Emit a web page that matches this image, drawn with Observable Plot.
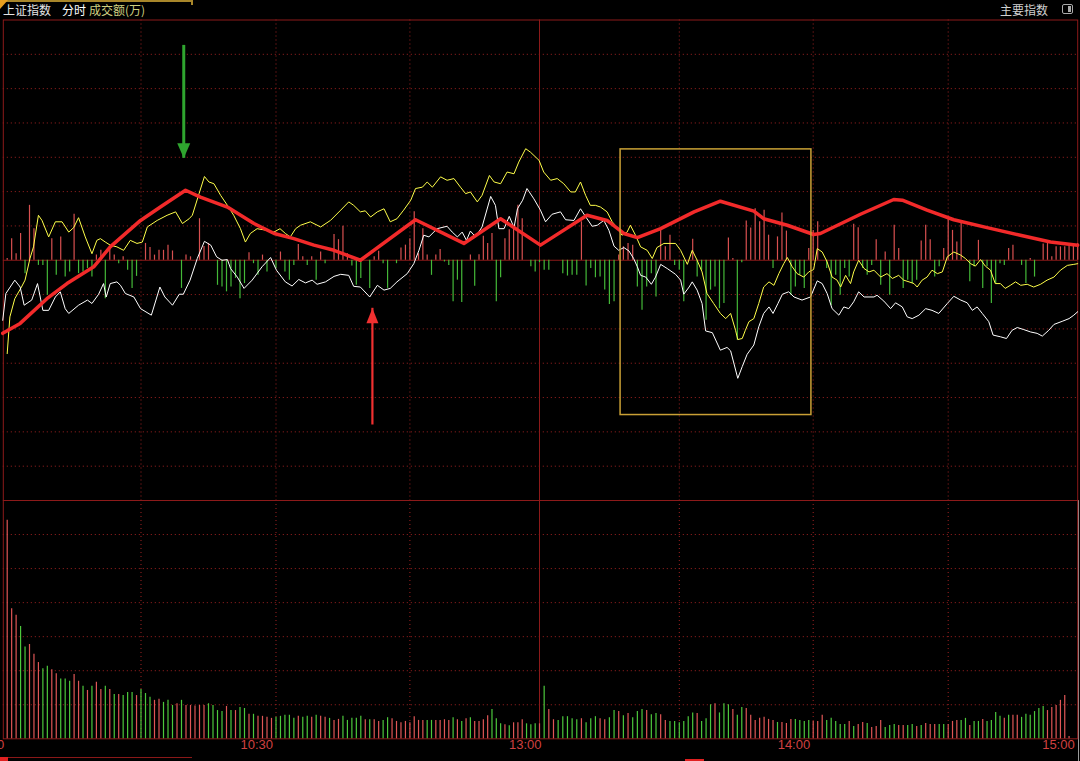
<!DOCTYPE html>
<html><head><meta charset="utf-8">
<script src="https://cdn.jsdelivr.net/npm/d3@7"></script>
<script src="https://cdn.jsdelivr.net/npm/@observablehq/plot@0.6"></script>
<style>
html,body{margin:0;padding:0;background:#000;}
#wrap{position:relative;width:1080px;height:761px;overflow:hidden;background:#000;font-family:"Noto Sans CJK SC",sans-serif;}
#wrap svg{position:absolute;left:0;top:0;}
.t{position:absolute;top:2px;font-size:12px;line-height:16px;white-space:nowrap;}
.b{position:absolute;}
</style></head><body>
<div id="wrap">
  <div class="b" style="left:0;top:0;width:192px;height:2px;background:#a8862a"></div>
  <div class="b" style="left:191px;top:0;width:2px;height:5px;background:#a8862a"></div>
  <div class="b" style="left:0;top:0;width:0;height:0;border-top:9px solid #e8a020;border-right:8px solid transparent"></div>
  <div class="t" style="left:3px;color:#e6e6e6">上证指数</div>
  <div class="t" style="left:62px;color:#ffffff">分时</div>
  <div class="t" style="left:89px;color:#cfcf80">成交额(万)</div>
  <div class="t" style="left:1000px;color:#d0d0d0">主要指数</div>
  <div class="b" style="left:1062px;top:4px;width:11px;height:10px;border:1px solid #aaa;border-radius:2px;box-sizing:border-box"></div>
  <div class="b" style="left:1068px;top:6px;width:3px;height:6px;background:#aaa"></div>
  <div class="b" style="left:0;top:757px;width:8px;height:4px;background:#e02020"></div>
  <div class="b" style="left:8px;top:757px;width:184px;height:1px;background:#8a1818"></div>
  <div class="b" style="left:685px;top:759px;width:19px;height:2px;background:#e02020"></div>
  <div class="b" style="left:1078px;top:500px;width:1px;height:261px;background:#9a9a9a"></div>
</div>
<script>
// ---------- data (minute index 0 = 9:30, 120 = 11:30/13:00, 240 = 15:00) ----------
const xKnots = [0, 30, 60, 90, 120, 150, 180, 210, 240];
const tickMinutes = [0, 60, 180, 240];
const tickLabels = ["9:30", "10:30", "14:00", "15:00"];
const middayMinute = [120];
const middayLabel = ["13:00"];

// price line (white), leading line (yellow): [minute, value]
const whitePts = [[-1,-17.5],[-0.3,-9.7],[1.7,-5.8],[2.9,-7.8],[3.8,-13.1],[5.5,-11.6],[6.8,-6.8],[8.0,-14.6],[9.3,-14.6],[10.8,-10.7],[11.9,-9.2],[13.0,-14.1],[13.8,-15.5],[16.0,-13.1],[18.0,-11.6],[19.0,-12.6],[20.5,-9.9],[21.6,-6.8],[22.2,-10.7],[23.1,-6.8],[24.6,-6.3],[25.4,-7.3],[26.5,-9.7],[28.4,-10.7],[29.9,-14.1],
[32.3,-16.0],[34.2,-7.8],[35.3,-10.7],[37.0,-13.1],[38.5,-9.9],[39.4,-9.9],[40.9,-5.8],[42.5,0.5],[44.1,5.5],[45.5,4.4],[46.8,1.0],[48.0,0],[49.2,0.2],[49.9,-2.4],[51.4,-4.9],[52.9,-8.2],[54.7,-5.8],[56.9,-1.9],[58.8,0.8],
[60.1,-2.9],[62.1,-6.3],[63.6,-7.5],[65.1,-5.6],[66.6,-6.6],[68.1,-5.8],[69.2,-7.0],[71.1,-6.3],[73.0,-4.7],[74.5,-4.1],[76.3,-4.4],[77.4,-7.6],
[78.9,-7.8],[81.0,-10.7],[82.7,-7.3],[84.2,-8.7],[85.6,-8.2],[87.1,-6.3],[89.4,-3.9],[90.9,-1.0],[92.1,2.9],[93.2,7.3],[94.4,6.8],[96.3,9.2],[98.6,9.9],[99.8,8.2],[101.0,6.8],[102.1,8.2],[103.1,5.8],[104.0,8.5],[105.2,6.8],[106.7,9.7],[108.7,18.6],[109.8,16.0],[110.6,9.2],[111.8,9.2],[113.0,12.8],[114.1,9.5],[114.9,15.0],[116.1,17.5],[117.1,20.9],[118.7,17.9],[120.2,14.6],[121.3,11.2],[122.7,13.4],[124.5,14.1],[125.6,11.8],[127.4,11.6],[128.8,15.0],[129.7,13.1],[131.3,9.9],[132.4,10.2],[133.8,11.6],[134.9,8.7],[136.0,4.1],[137.0,2.9],[138.1,3.7],[139.2,2.7],[140.2,0.5],[141.0,-1.9],[141.7,-4.4],[142.8,-4.9],[144.0,-7.0],[144.9,-4.9],[146.0,-1.2],[147.4,-2.4],[149.2,-4.1],[150.3,-5.8],[151.0,-9.9],[152.2,-7.8],[152.9,-6.3],[154.0,-8.7],[155.1,-12.6],[155.9,-20.6],[157.4,-21.1],
[159.2,-26.2],[160.7,-25.4],[161.5,-26.4],[163.1,-34.4],[164.1,-31.0],[165.2,-27.4],[166.7,-24.7],[167.8,-19.4],[168.9,-15.5],[170.1,-13.6],[171.0,-15.5],[172.1,-12.6],[173.1,-9.9],[174.5,-9.2],[175.7,-10.7],[177.5,-11.6],[179.4,-10.7],[180.9,-6.0],[182.0,-6.8],[183.1,-9.7],[184.2,-14.1],[185.7,-16.0],[186.8,-13.6],[187.9,-14.1],[189.0,-12.1],[190.1,-9.2],[191.3,-10.7],[193.5,-10.7],[194.2,-10.2],[195.7,-11.9],[197.2,-14.1],[198.3,-12.4],[199.8,-13.6],[200.9,-16.5],[202.0,-17.0],[203.5,-16.0],[205.0,-14.1],[206.4,-14.6],[207.9,-15.5],[209.8,-12.6],[211.3,-10.5],[212.9,-11.6],[214.4,-12.4],[215.6,-14.6],[216.7,-13.6],[217.9,-15.5],[219.4,-17.9],[220.4,-21.8],[222.1,-22.3],[223.5,-22.8],[224.8,-20.4],[226.0,-19.6],[227.5,-20.2],[229.1,-20.9],[230.6,-21.3],[231.8,-22.1],[233.3,-20.4],[234.5,-18.7],[236.4,-17.8],[238.0,-17.0],[239.1,-16.0],[240,-15.0]];

const yellowPts = [[0,-27.2],[0.6,-16.5],[1.7,-11.2],[3.2,-7.8],[4.0,-5.8],[5.1,0.5],[5.9,3.9],[7.0,13.1],[7.8,11.6],[9.3,6.8],[10.8,11.2],[12.3,11.2],[13.8,8.2],[14.9,9.5],[16.0,12.4],[17.5,6.8],[19.0,1.9],[20.1,5.8],[20.9,6.3],[22.0,5.3],[23.1,4.4],[24.6,3.9],[26.1,2.9],[27.6,5.8],[29.1,4.9],
[30.3,5.3],[31.4,9.7],[33.6,11.6],[35.8,13.1],[37.7,14.1],[39.2,10.7],[40.7,12.1],[41.4,13.1],[42.9,19.4],[44.1,24.4],[45.1,22.8],[46.2,22.3],[47.7,18.9],[49.2,16.0],[50.6,13.1],[52.1,9.2],[53.2,5.3],[54.3,7.8],[55.8,9.2],[58.0,8.7],[59.5,8.2],
[60.9,9.2],[62.1,7.8],[63.2,6.8],[64.4,9.2],[65.5,10.2],[67.7,11.2],[70.0,9.7],[72.2,11.6],[74.5,14.6],[76.3,17.0],[77.4,16.0],
[78.9,14.1],[80.0,14.4],[81.2,12.6],[82.7,14.1],[84.2,15.0],[85.6,11.2],[87.1,12.1],[88.6,14.6],[90.2,17.5],[91.3,20.9],[92.9,21.3],[94.0,22.8],[95.2,21.3],[97.1,24.3],[98.6,23.3],[100.2,23.8],[101.7,21.3],[102.9,19.4],[104.0,19.9],[105.6,17.0],[106.7,18.9],[108.4,24.7],[109.5,22.8],[111.0,22.3],[112.5,25.7],[114.1,25.2],[115.2,28.6],[116.8,32.5],[117.9,31.5],[119.9,29.1],[120.9,25.7],[122.4,23.3],[123.8,23.8],[125.2,22.3],[126.7,19.9],[127.7,19.9],[128.8,22.8],[129.9,18.9],[130.9,16.0],[132.0,16.0],[133.1,15.5],[134.5,14.1],[135.6,11.2],[136.7,9.5],[137.7,7.3],[138.8,8.2],[139.5,10.2],[140.6,7.3],[141.7,3.9],[143.1,2.9],[144.2,0.5],[145.2,3.7],[146.7,4.9],[149.2,4.9],[150.3,2.9],[151.8,-1.2],[152.9,2.9],[154.0,0],[155.1,-3.4],[156.2,-9.7],[157.7,-12.6],
[159.2,-15.5],[160.4,-17.0],[161.5,-15.5],[162.6,-20.4],[163.1,-23.1],[164.1,-22.8],[164.8,-20.4],[165.6,-17.9],[166.7,-17.0],[167.8,-12.6],[168.9,-7.8],[170.1,-6.3],[171.2,-7.3],[172.3,-3.9],[173.4,-1.0],[174.2,0.8],[175.3,-1.9],[176.4,-3.9],[177.9,-4.9],[179.0,-3.4],[180.1,-2.7],[180.9,3.4],[182.0,2.4],[183.1,-0.5],[184.2,-4.9],[185.3,-5.8],[186.1,-7.8],[187.2,-4.4],[188.3,-6.8],[189.0,-3.4],[190.1,0],[191.3,-2.4],[192.4,-3.4],[193.5,-2.9],[195.0,-4.9],[196.4,-3.9],[197.6,-5.3],[199.0,-4.4],[200.1,-5.8],[201.3,-6.3],[202.4,-6.8],[203.1,-7.8],[204.2,-5.8],[205.3,-4.9],[206.4,-2.9],[207.6,-3.9],[208.7,-3.4],[209.8,1.0],[211.3,2.4],[212.9,1.5],[214.0,0.5],[215.2,-1.0],[216.3,-1.7],[217.5,0.2],[218.6,-1.7],[219.8,-2.9],[220.9,-6.8],[222.1,-6.8],[223.2,-8.2],[224.4,-7.3],[225.6,-6.3],[226.8,-7.3],[228.3,-7.0],[229.8,-7.8],[231.4,-7.0],[232.9,-5.8],[234.5,-4.9],[236.0,-2.9],[237.6,-1.5],[239.1,-1.2],[240,-1.0]];

// hand-drawn thick red trend line vertices
const trendPts = [[-1,-21.3],[2.9,-18.4],[8.9,-11.2],[13.4,-6.8],[19.4,-1.9],[23.1,3.9],[29.9,11.6],[34.3,15.5],[39.9,20.4],[43.2,18.4],[49.2,15.5],[55.1,10.7],[59.6,7.8],[64.0,6.3],[68.5,4.4],[73.0,2.9],[78.9,0],[91.3,11.8],[102.5,4.9],[111.0,12.1],[120.2,4.4],[130.2,13.1],[134.5,11.6],[138.1,7.8],[141.0,6.6],[146.0,9.2],[153.3,14.1],[159.2,17.2],[166.7,14.3],[168.9,12.1],[174.2,10.2],[180.1,7.5],[181.6,7.8],[190.5,13.4],[197.9,17.7],[199.8,17.5],[205.3,14.6],[211.3,11.8],[219.0,9.5],[226.7,7.3],[233.7,5.3],[240,4.4]];

// buy/sell strength bars around the zero line: [minute, value]
const flowPts = [[0,0.5],[1,6.3],[2,1.9],[3,7.8],[4,-3.9],[5,16.0],[6,9.2],[7,-1.5],[8,-1.5],[9,-10.2],[10,6.3],[11,-4.4],[12,6.8],[13,-4.9],[14,-3.4],[15,13.4],[16,-3.9],[17,-3.4],[18,-2.4],[19,-4.9],[20,1.5],[21,2.9],[22,-11.2],[23,3.9],[24,1.5],[25,-1.0],[26,1.0],[27,-2.9],[28,-8.2],[29,-4.7],[31,4.9],[32,3.7],[33,1.5],[34,2.9],[35,2.9],[36,4.4],[37,2.7],[39,-8.2],[40,1.5],[41,1.0],[43,12.1],[44,4.0],[45,4.9],[47,-7.3],[48,-7.8],[49,-9.2],[50,-7.8],[51,-5.3],[52,-11.2],[53,-6.8],[54,2.2],[55,-1.0],[56,-4.4],[57,1.5],[58,-3.4],[60,-2.4],[61,2.4],[62,-3.4],[63,-5.8],[64,-1.5],[65,4.6],[66,1.0],[67,-1.5],[68,1.0],[69,-5.8],[70,2.4],[71,-1.0],[73,7.5],[74,6.0],[75,9.9],[76,1.9],[77,-1.7],[78,-7.3],[79,-5.3],[81,-8.2],[82,1.0],[83,2.6],[84,-1.0],[85,-8.2],[87,-1.0],[88,3.6],[89,4.4],[90,6.3],[91,14.1],[92,1.9],[93,9.2],[94,1.5],[95,-4.4],[96,1.5],[97,3.1],[98,-0.5],[99,-1.5],[100,-12.1],[101,-5.8],[102,-12.3],[104,1.5],[105,-7.6],[106,1.6],[107,7.0],[108,4.9],[109,7.8],[110,-12.1],[111,-5.1],[112,6.3],[113,8.9],[114,10.2],[115,16.0],[116,12.1],[118,-1.9],[119,-3.4],[120,-0.7],[121,-2.9],[122,-2.9],[125,-3.9],[126,-4.6],[127,-4.4],[128,-4.4],[129,11.2],[130,-7.5],[131,-2.4],[132,-5.1],[133,-4.9],[134,-8.7],[135,-12.9],[136,-12.1],[137,1.5],[138,3.9],[139,4.9],[140,4.4],[141,-7.8],[142,-14.6],[143,-7.8],[144,-3.9],[145,-10.7],[146,8.9],[147,3.9],[148,7.3],[149,-1.5],[150,-2.9],[151,-12.1],[153,6.1],[154,-4.9],[155,-2.9],[156,-17.5],[157,-8.7],[158,-7.8],[159,-14.1],[160,-12.6],[161,6.5],[162,0.5],[163,-23.3],[164,-0.7],[165,11.4],[166,9.4],[167,15.0],[168,11.2],[169,14.6],[170,7.3],[171,-2.4],[172,6.8],[173,13.8],[174,8.5],[175,-10.2],[176,-7.8],[177,-4.4],[178,-8.2],[179,3.4],[180,8.7],[181,11.2],[183,-2.4],[184,-13.2],[185,-4.4],[186,-10.2],[187,-2.4],[188,-4.9],[189,10.5],[190,9.5],[191,-2.4],[192,-4.4],[193,-1.5],[194,6.0],[195,-7.3],[196,2.4],[197,-10.2],[198,10.2],[199,3.4],[200,-8.2],[201,-5.8],[202,-6.8],[203,-5.8],[204,5.6],[205,10.2],[206,6.0],[207,-4.9],[208,-1.9],[209,3.4],[210,12.8],[211,8.7],[212,5.3],[213,10.7],[215,-6.3],[216,-1.9],[217,5.8],[218,-8.2],[219,-1.9],[220,-12.6],[221,-6.8],[222,-1.0],[223,-1.5],[224,3.4],[225,4.4],[227,-1.5],[228,-6.8],[229,0.5],[230,-4.9],[232,4.7],[233,4.9],[234,1.0],[235,3.9],[236,3.9],[237,3.9],[238,4.4],[239,4.1],[240,4.9]];

// turnover per minute (index = minute), and 1 = up (red) / 0 = down (green)
const volAmt = [642,382,363,330,270,277,248,224,206,213,203,191,176,176,169,189,169,154,142,154,166,145,154,145,130,130,127,136,136,127,145,133,122,113,116,107,113,98,103,113,98,98,96,98,98,103,98,83,80,95,83,83,92,89,72,72,66,66,63,60,63,66,69,69,60,66,63,66,63,69,66,63,60,54,57,66,54,60,60,
66,56,56,56,51,54,62,59,51,47,51,47,65,54,54,54,54,54,54,56,54,62,56,51,59,62,51,51,56,68,86,59,44,41,38,47,47,56,44,41,44,44,
154,86,56,54,65,65,59,56,59,47,59,65,59,56,62,83,80,68,74,62,80,86,83,71,74,71,54,51,51,47,51,65,76,74,51,59,100,103,76,103,
100,86,69,92,89,69,54,60,63,57,54,48,48,45,57,57,54,51,54,51,51,69,54,60,51,42,42,51,36,42,48,45,33,36,54,33,39,42,39,39,39,42,36,39,45,42,42,42,42,42,51,54,54,60,39,51,51,57,51,54,77,66,60,69,69,69,63,72,69,80,89,95,83,92,98,113,127,7];
const volUp = [1,1,1,0,0,1,1,1,0,0,1,1,0,0,0,1,1,0,1,0,1,1,0,1,0,1,0,0,0,1,0,0,0,1,1,0,0,0,1,0,1,1,1,1,1,0,0,0,0,1,0,1,0,0,1,0,1,1,1,1,0,0,0,0,0,1,0,0,1,0,1,1,0,1,1,0,0,0,0,
0,1,0,1,1,0,0,1,1,1,1,1,1,1,1,0,0,1,1,1,1,0,1,0,1,0,1,1,1,1,0,0,0,1,0,1,1,1,0,0,0,1,
0,1,1,0,0,0,0,0,1,0,0,0,1,1,0,0,1,0,1,0,0,0,1,0,0,1,1,0,0,0,0,0,0,1,0,0,0,1,0,0,
0,1,0,0,1,1,1,1,1,1,1,0,1,1,1,0,0,0,0,1,1,1,0,0,0,0,0,1,0,1,1,0,1,1,1,0,0,0,1,1,0,0,1,0,1,1,1,0,0,1,1,1,0,0,1,0,0,1,0,0,0,0,1,0,1,1,0,0,0,0,0,0,1,1,1,1,1,1];

// annotations
const arrowDown = [{m: 39.5, from: 62.6, to: 29.7}];
const arrowUp = [{m: 81.6, from: -48, to: -14}];
const boxes = [{m1: 137.4, m2: 179.6, v1: 32.3, v2: -45.1}];

// ---------- layout & style ----------
const W = 1080, H = 761;
const xPx = [6.7, 140.5, 275.5, 409.4, 539, 678.8, 812.7, 947.7, 1077.2];
const LINE = "#8c1a1a", GRID = "#a02222", DASH = "1,3";
const RED = "#e05656", GREEN = "#4cc83c";
const dottedX = [30, 60, 90, 150, 180, 210];
const mainGridY = [-60,-50,-40,-30,-20,-10,10,20,30,40,50,60];
const volGridY = [100,200,300,400,500,600];
const xOpt = {type: "linear", domain: xKnots, range: xPx, axis: null};
const style = {background: "transparent", fontFamily: "'Liberation Sans', Arial, sans-serif", overflow: "visible"};

const headDown = {draw(ctx) { ctx.moveTo(-6.5, -15); ctx.lineTo(6.5, -15); ctx.lineTo(0, 0); ctx.closePath(); }};
const headUp = {draw(ctx) { ctx.moveTo(-6, 15); ctx.lineTo(6, 15); ctx.lineTo(0, 0); ctx.closePath(); }};

const mainPlot = Plot.plot({
  width: W, height: H, marginTop: 19.5, marginBottom: H - 500, marginLeft: 2.8, marginRight: 2.8,
  x: xOpt, y: {domain: [-70, 70], axis: null}, style,
  marks: [
    Plot.ruleY(mainGridY, {stroke: GRID, strokeDasharray: DASH}),
    Plot.ruleX(dottedX, {stroke: GRID, strokeDasharray: DASH}),
    Plot.ruleX(middayMinute, {stroke: LINE}),
    Plot.ruleY([0], {stroke: LINE}),
    Plot.frame({stroke: LINE}),
    Plot.ruleX(flowPts, {x: d => d[0], y1: 0, y2: d => d[1], stroke: d => d[1] > 0 ? "#d85050" : "#44b838", strokeWidth: 1.2}),
    Plot.line(yellowPts, {x: d => d[0], y: d => d[1], stroke: "#ffff4a", strokeWidth: 1}),
    Plot.line(whitePts, {x: d => d[0], y: d => d[1], stroke: "#ffffff", strokeWidth: 1}),
    Plot.line(trendPts, {x: d => d[0], y: d => d[1], stroke: "#f22a2a", strokeWidth: 3.5, strokeLinejoin: "round", strokeLinecap: "round"}),
    Plot.rect(boxes, {x1: "m1", x2: "m2", y1: "v1", y2: "v2", fill: "none", stroke: "#c9a035", strokeWidth: 1.5}),
    Plot.ruleX(arrowDown, {x: "m", y1: "from", y2: "to", stroke: "#2fa52f", strokeWidth: 3}),
    Plot.dot(arrowDown, {x: "m", y: "to", symbol: headDown, fill: "#2fa52f", r: 5}),
    Plot.ruleX(arrowUp, {x: "m", y1: "from", y2: "to", stroke: "#f03030", strokeWidth: 2.2}),
    Plot.dot(arrowUp, {x: "m", y: "to", symbol: headUp, fill: "#f03030", r: 5})
  ]
});

const volData = volAmt.map((v, i) => ({m: i, v, up: volUp[i]}));
const volPlot = Plot.plot({
  width: W, height: H, marginTop: 500, marginBottom: H - 738.3, marginLeft: 2.8, marginRight: 2.8,
  x: xOpt, y: {domain: [0, 700], axis: null}, style,
  marks: [
    Plot.ruleY(volGridY, {stroke: GRID, strokeDasharray: DASH}),
    Plot.ruleX(dottedX, {stroke: GRID, strokeDasharray: DASH}),
    Plot.ruleX(middayMinute, {stroke: LINE}),
    Plot.frame({stroke: LINE}),
    Plot.ruleX(volData, {x: "m", y1: 0, y2: "v", stroke: d => d.up ? RED : GREEN, strokeWidth: 1.2}),
    Plot.text(tickMinutes, {x: d => d, text: (d, i) => tickLabels[i], frameAnchor: "bottom", dy: 10, dx: -3, textAnchor: "end", fill: "#d04040", fontSize: 13}),
    Plot.text(middayMinute, {x: d => d, text: (d, i) => middayLabel[i], frameAnchor: "bottom", dy: 10, dx: 2, textAnchor: "end", fill: "#d04040", fontSize: 13})
  ]
});

const wrap = document.getElementById("wrap");
wrap.appendChild(mainPlot);
wrap.appendChild(volPlot);
</script>
</body></html>
